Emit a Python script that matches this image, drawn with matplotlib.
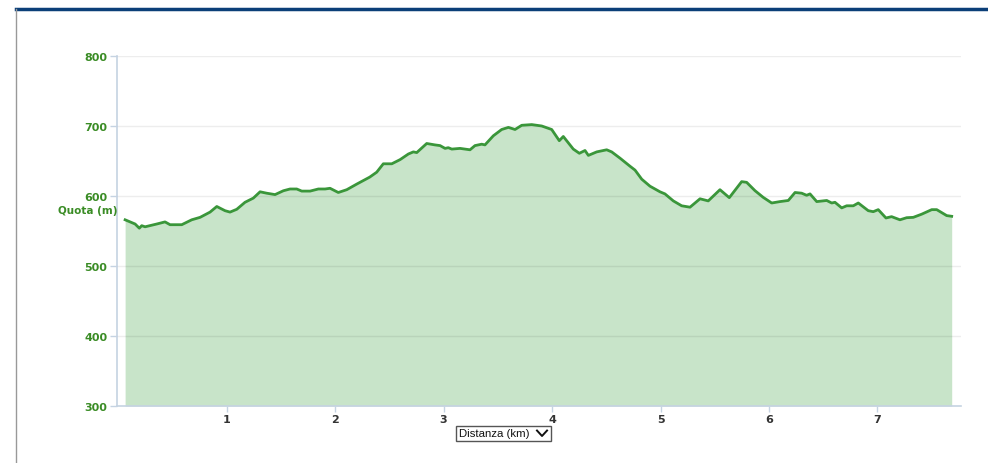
import matplotlib.pyplot as plt
from matplotlib.lines import Line2D
from matplotlib.patches import Rectangle

# profilo altimetrico: distanza (km) e quota (m)
distanza = [0.065, 0.157, 0.196, 0.218, 0.249, 0.357, 0.433, 0.479, 0.587, 0.679,
            0.756, 0.848, 0.91, 0.986, 1.032, 1.094, 1.17, 1.247, 1.309, 1.37,
            1.447, 1.524, 1.585, 1.647, 1.693, 1.77, 1.846, 1.908, 1.954, 2.03,
            2.108, 2.2, 2.32, 2.384, 2.445, 2.523, 2.6, 2.676, 2.722, 2.753,
            2.845, 2.92, 2.968, 3.014, 3.044, 3.076, 3.152, 3.244, 3.29, 3.352,
            3.382, 3.459, 3.536, 3.598, 3.659, 3.721, 3.813, 3.905, 3.997, 4.067,
            4.104, 4.196, 4.252, 4.304, 4.335, 4.412, 4.504, 4.55, 4.627, 4.719,
            4.765, 4.827, 4.903, 4.995, 5.041, 5.118, 5.195, 5.272, 5.364, 5.44,
            5.548, 5.634, 5.748, 5.794, 5.871, 5.947, 6.025, 6.101, 6.178, 6.24,
            6.301, 6.347, 6.378, 6.44, 6.532, 6.578, 6.608, 6.67, 6.716, 6.777,
            6.823, 6.915, 6.961, 7.007, 7.078, 7.13, 7.207, 7.269, 7.33, 7.407,
            7.5, 7.546, 7.638, 7.684]
quota = [566, 560, 554, 557.6, 556, 560, 563, 559, 559, 566,
         569.5, 577, 585, 579, 577, 581, 591, 597, 606, 604,
         602, 607.5, 610, 610, 607, 607, 610, 610, 611, 605,
         609, 617, 627, 634, 646, 646, 652, 660, 663, 662,
         675, 673, 672, 668, 669, 667, 668, 666, 672, 674,
         673, 686, 695, 698, 695, 701, 702, 700, 695, 679,
         685, 667, 661, 665, 658, 663, 666, 663, 654, 642.5,
         637, 624, 614, 606, 603, 593, 586, 584, 596, 593,
         609, 597.6, 620.5, 619.5, 607.6, 598, 590, 592, 593.6, 605,
         604, 601, 603, 592, 593.6, 590, 591, 583, 586, 586,
         590, 579, 577.6, 580.5, 568.6, 570.5, 566, 569, 569.5, 574,
         580.5, 580.5, 572, 571]

y_ticks = [300, 400, 500, 600, 700, 800]
x_ticks = [1, 2, 3, 4, 5, 6, 7]

verde = '#3a8c25'
asse = '#c5d3e2'

fig = plt.figure(figsize=(9.88, 4.64), dpi=100)
ax = fig.add_axes([0.1184, 0.1228, 0.8543, 0.7544])

ax.fill_between(distanza, quota, 300, color='#c8e4c9', lw=0, zorder=1)
ax.plot(distanza, quota, color='#3a963a', lw=2, solid_joinstyle='round', zorder=3)
for q in y_ticks[1:]:
    ax.axhline(q, color='black', alpha=0.07, lw=1, zorder=2)

ax.set_xlim(-0.01, 7.77)
ax.set_ylim(300, 800)
ax.set_yticks(y_ticks)
ax.set_xticks(x_ticks)

for s in ['top', 'right']:
    ax.spines[s].set_visible(False)
ax.spines['left'].set_color(asse)
ax.spines['bottom'].set_color(asse)
ax.spines['left'].set_linewidth(1.2)
ax.spines['bottom'].set_linewidth(1.2)

ax.tick_params(axis='y', colors=asse, length=5, width=1, pad=2, labelcolor=verde, labelsize=8)
ax.tick_params(axis='x', colors=asse, length=4, width=1, pad=2, labelcolor='#333333', labelsize=8)
for lab in ax.get_yticklabels() + ax.get_xticklabels():
    lab.set_fontweight('bold')

fig.text(0.089, 0.545, 'Quota (m)', color=verde, fontsize=7.5, fontweight='bold',
         ha='center', va='center')

# selettore "Distanza (km)"
fig.add_artist(Rectangle((0.4615, 0.0474), 0.0962, 0.0323, transform=fig.transFigure,
                         fc='white', ec='#555555', lw=1))
fig.text(0.4650, 0.0636, 'Distanza (km)', fontsize=8.2, family='Liberation Sans',
         color='#111111', ha='left', va='center')
fig.add_artist(Line2D([0.5435, 0.5486, 0.5537], [0.0700, 0.0582, 0.0700],
                      transform=fig.transFigure, color='#111111', lw=1.4))

# bordo della pagina
fig.add_artist(Line2D([0.016, 1.0], [0.979, 0.979], transform=fig.transFigure,
                      color='#0b3f78', lw=2.5))
fig.add_artist(Line2D([0.0165, 0.0165], [0.0, 0.979], transform=fig.transFigure,
                      color='#999999', lw=1))

fig.savefig('out.png', dpi=100)
